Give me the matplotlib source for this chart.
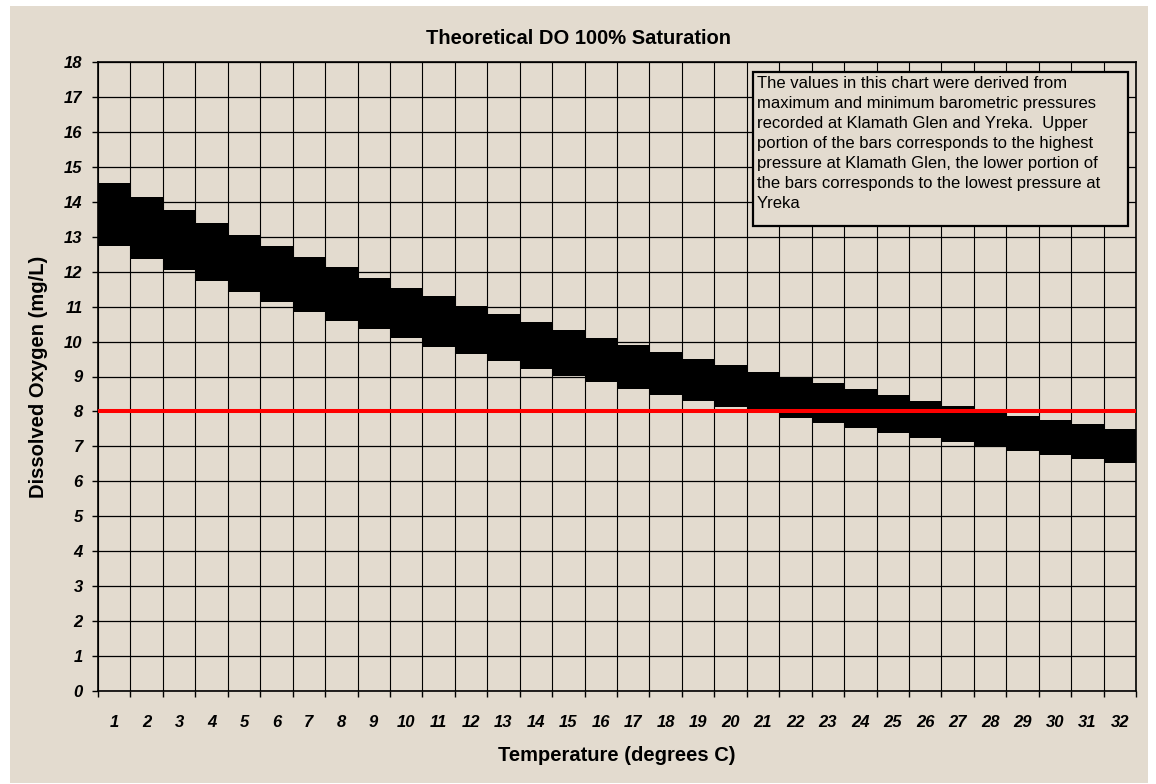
import numpy as np
import matplotlib
matplotlib.use("Agg")
import matplotlib.pyplot as plt
from matplotlib.patches import Rectangle

plt.rcParams["font.family"] = ["Liberation Sans", "DejaVu Sans"]

# temperature categories (degrees C)
temps = list(range(1, 33))

# theoretical DO at 100% saturation (mg/L)
do_high = [14.53, 14.14, 13.76, 13.40, 13.04, 12.73, 12.41, 12.12,
           11.83, 11.54, 11.29, 11.03, 10.78, 10.55, 10.32, 10.10,
           9.90, 9.69, 9.50, 9.32, 9.14, 8.98, 8.81, 8.64,
           8.47, 8.31, 8.17, 8.02, 7.88, 7.76, 7.63, 7.49]
do_low = [12.74, 12.37, 12.05, 11.73, 11.42, 11.12, 10.86, 10.60,
          10.35, 10.09, 9.85, 9.64, 9.43, 9.22, 9.02, 8.84,
          8.64, 8.46, 8.30, 8.12, 7.95, 7.82, 7.67, 7.53,
          7.38, 7.25, 7.12, 6.98, 6.87, 6.75, 6.64, 6.53]
threshold = 8

y_ticks = list(range(0, 19))

note = ("The values in this chart were derived from\n"
        "maximum and minimum barometric pressures\n"
        "recorded at Klamath Glen and Yreka.  Upper\n"
        "portion of the bars corresponds to the highest\n"
        "pressure at Klamath Glen, the lower portion of\n"
        "the bars corresponds to the lowest pressure at\n"
        "Yreka")

W, H = 1156, 784
bg = "#e3dbcf"

fig = plt.figure(figsize=(W / 100, H / 100), dpi=100, facecolor="white")
fig.patches.append(Rectangle((10 / W, 1 / H), 1138 / W, 777 / H,
                             transform=fig.transFigure, facecolor=bg,
                             edgecolor="none", zorder=-10))

ax = fig.add_axes([98 / W, 1 - 691 / H, (1136 - 98) / W, (691 - 62) / H])
ax.patch.set_alpha(0)

x = np.arange(len(temps))
heights = np.array(do_high) - np.array(do_low)
ax.bar(x, heights, bottom=do_low, width=1.0, color="black", zorder=3)
ax.axhline(threshold, color="#ff0000", linewidth=2.9, zorder=4)

ax.set_xlim(-0.5, len(temps) - 0.5)
ax.set_ylim(0, 18)
ax.set_yticks(y_ticks)
ax.set_xticks(x)
ax.set_xticklabels([str(t) for t in temps])
ax.set_xticks(np.arange(len(temps) + 1) - 0.5, minor=True)

ax.grid(True, which="major", axis="y", color="black", linewidth=0.9, zorder=1)
ax.grid(True, which="minor", axis="x", color="black", linewidth=0.8, zorder=1)
ax.grid(False, which="major", axis="x")

ax.tick_params(axis="x", which="major", length=0, pad=17)
ax.tick_params(axis="x", which="minor", length=4, width=1, direction="out")
ax.tick_params(axis="y", which="major", length=4, width=1, direction="out", pad=7)
for lab in ax.get_xticklabels() + ax.get_yticklabels():
    lab.set_fontsize(12)
    lab.set_fontweight("bold")
    lab.set_fontstyle("italic")

for side in ["left", "bottom", "right", "top"]:
    ax.spines[side].set_linewidth(1.2)
    ax.spines[side].set_color("black")

ax.set_xlabel("Temperature (degrees C)", fontsize=14.5, fontweight="bold", labelpad=12)
ax.set_ylabel("Dissolved Oxygen (mg/L)", fontsize=14.5, fontweight="bold", labelpad=12)

fig.text(579 / W, 1 - 39 / H, "Theoretical DO 100% Saturation", ha="center",
         va="center", fontsize=14.5, fontweight="bold")

# note box
fig.patches.append(Rectangle((753 / W, 1 - 226 / H), 375 / W, 154 / H,
                             transform=fig.transFigure, facecolor=bg,
                             edgecolor="black", linewidth=1.6, zorder=5))
fig.text(757 / W, 1 - 76 / H, note, ha="left", va="top", fontsize=12,
         linespacing=1.42, zorder=6)

fig.savefig("out.png", dpi=100, facecolor="white")
